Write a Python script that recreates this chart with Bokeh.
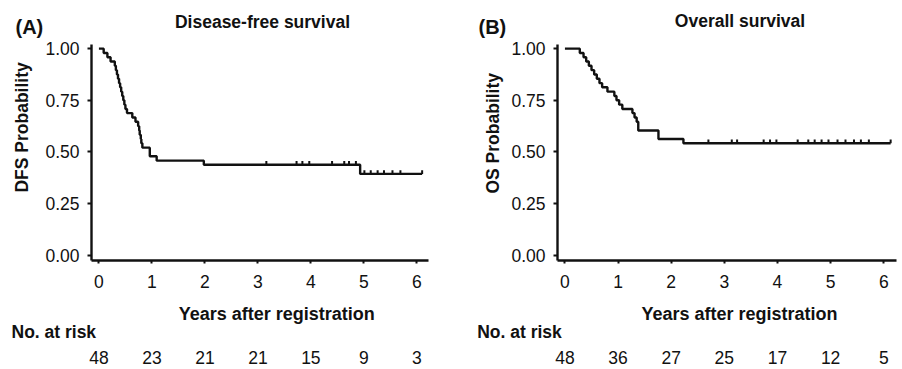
from bokeh.plotting import figure
from bokeh.models import FixedTicker, Range1d, ColumnDataSource
from bokeh.layouts import row, column
from bokeh.core.properties import value
from bokeh.embed import file_html
from bokeh.resources import INLINE

# ---------------- data ----------------
# Disease-free survival: step times (years) and survival after each step
dfs_time = [0.00, 0.09, 0.16, 0.22, 0.30, 0.32, 0.34, 0.36, 0.38, 0.40, 0.42, 0.44,
            0.46, 0.48, 0.50, 0.53, 0.63, 0.69, 0.74, 0.76, 0.77, 0.79, 0.80, 0.82,
            0.96, 1.09, 1.98, 4.93, 6.10]
dfs_surv = [1.000, 0.979, 0.958, 0.938, 0.917, 0.896, 0.875, 0.854, 0.833, 0.813, 0.792, 0.771,
            0.750, 0.729, 0.708, 0.688, 0.667, 0.646, 0.625, 0.604, 0.583, 0.563, 0.542, 0.521,
            0.479, 0.458, 0.438, 0.394, 0.394]
dfs_cens_time = [3.16, 3.73, 3.84, 3.97, 4.40, 4.63, 4.72, 4.85,
                 5.01, 5.13, 5.26, 5.38, 5.54, 5.69, 6.10]
dfs_cens_surv = [0.438, 0.438, 0.438, 0.438, 0.438, 0.438, 0.438, 0.438,
                 0.394, 0.394, 0.394, 0.394, 0.394, 0.394, 0.394]

# Overall survival
os_time = [0.00, 0.28, 0.35, 0.40, 0.45, 0.50, 0.55, 0.60, 0.65, 0.70, 0.80, 0.93,
           0.97, 1.02, 1.08, 1.27, 1.31, 1.35, 1.38, 1.76, 2.23, 6.13]
os_surv = [1.000, 0.979, 0.958, 0.938, 0.917, 0.896, 0.875, 0.854, 0.833, 0.813, 0.792, 0.771,
           0.750, 0.729, 0.708, 0.688, 0.667, 0.646, 0.604, 0.563, 0.542, 0.542]
os_cens_time = [2.70, 3.14, 3.24, 3.74, 3.86, 3.98, 4.38, 4.58, 4.70, 4.83, 4.96,
                5.13, 5.28, 5.44, 5.57, 5.72, 6.13]
os_cens_surv = [0.542] * 17

# Numbers at risk
risk_years = [0, 1, 2, 3, 4, 5, 6]
dfs_risk = [48, 23, 21, 21, 15, 9, 3]
os_risk = [48, 36, 27, 25, 17, 12, 5]

y_ticks = [0, 0.25, 0.5, 0.75, 1.0]
y_tick_labels = ["0.00", "0.25", "0.50", "0.75", "1.00"]

panel_letters = ["(A)", "(B)"]
panel_titles = ["Disease-free survival", "Overall survival"]
y_labels = ["DFS Probability", "OS Probability"]
x_label = "Years after registration"
risk_label = "No. at risk"

# ---------------- styling / layout ----------------
FONT = "Liberation Sans"
INK = "#111111"
TOP_H = 38          # title strip
MAIN_H = 258        # plot (6 top border + 216 frame + 36 bottom border)
BOT_H = 72          # axis title + risk table
X0 = -0.14
Y_RANGE = (-0.025, 1.02)


def blank(width, height, x_range, y_range):
    f = figure(width=width, height=height, x_range=x_range, y_range=y_range,
               x_axis_type=None, y_axis_type=None, output_backend="svg",
               toolbar_location=None, min_border=0)
    f.outline_line_color = None
    f.background_fill_color = "white"
    f.border_fill_color = "white"
    return f


def bold_text(f, x, y, txt, size, align="center", angle=0.0):
    f.text(x=[x], y=[y], text=[txt], angle=angle, text_font=value(FONT),
           text_font_style="bold", text_font_size=value(size), text_color=INK,
           text_align=align, text_baseline="middle")


def make_panel(times, surv, ctimes, csurv, risk, letter, title, ylabel,
               panel_w, ylab_w, frame_left, frame_w, x_end, pos):
    ppx = frame_w / (x_end - X0)                 # pixels per year of the main frame
    right = panel_w - frame_left - frame_w
    wide_range = Range1d(X0 - frame_left / ppx, x_end + right / ppx)

    # main plot
    p = figure(width=panel_w - ylab_w, height=MAIN_H, x_range=Range1d(X0, x_end),
               y_range=Range1d(*Y_RANGE), output_backend="svg", toolbar_location=None,
               min_border_left=frame_left - ylab_w, min_border_right=right,
               min_border_top=6, min_border_bottom=MAIN_H - 6 - 216)
    p.outline_line_color = None
    p.grid.visible = False
    p.background_fill_color = "white"
    p.border_fill_color = "white"

    p.step(times, surv, mode="after", line_color=INK, line_width=2.4)
    p.segment(x0=ctimes, y0=csurv, x1=ctimes, y1=[s + 0.018 for s in csurv],
              line_color=INK, line_width=2)

    for ax in (p.xaxis[0], p.yaxis[0]):
        ax.axis_line_width = 2.4
        ax.axis_line_color = INK
        ax.major_tick_line_width = 2
        ax.major_tick_line_color = INK
        ax.major_tick_in = 0
        ax.minor_tick_line_color = None
        ax.major_label_text_font = FONT
        ax.major_label_text_font_size = "17.5px"
        ax.major_label_text_color = INK
    p.xaxis.ticker = FixedTicker(ticks=risk_years)
    p.xaxis.major_tick_out = 3
    p.xaxis.major_label_standoff = 11
    p.yaxis.ticker = FixedTicker(ticks=y_ticks)
    p.yaxis.major_label_overrides = {t: l for t, l in zip(y_ticks, y_tick_labels)}
    p.yaxis.major_tick_out = 4
    p.yaxis.major_label_standoff = 8

    # rotated y-axis title strip
    yl = blank(ylab_w, MAIN_H, Range1d(0, ylab_w), Range1d(MAIN_H, 0))
    bold_text(yl, pos["ylab_x"], pos["ylab_y"], ylabel, "17.5px", angle=1.5707963)

    # title strip
    top = blank(panel_w, TOP_H, wide_range, Range1d(TOP_H, 0))
    bold_text(top, pos["letter_x"], pos["letter_y"], letter, "20px", align="left")
    bold_text(top, pos["title_x"], pos["title_y"], title, "17.5px")

    # axis title + numbers at risk
    bot = blank(panel_w, BOT_H, wide_range, Range1d(BOT_H, 0))
    bold_text(bot, pos["xlab_x"], 17, x_label, "18px")
    bold_text(bot, pos["risk_x"], 35.7, risk_label, "17.5px", align="left")
    src = ColumnDataSource(dict(x=risk_years, y=[60.5] * len(risk_years),
                                t=[str(v) for v in risk]))
    bot.text(x="x", y="y", text="t", source=src, text_font=value(FONT),
             text_font_size=value("17.5px"), text_color=INK, text_align="center",
             text_baseline="middle")

    return column(top, row(yl, p), bot)


panelA = make_panel(dfs_time, dfs_surv, dfs_cens_time, dfs_cens_surv, dfs_risk,
                    panel_letters[0], panel_titles[0], y_labels[0],
                    panel_w=453, ylab_w=40, frame_left=91, frame_w=337, x_end=6.22,
                    pos=dict(letter_x=-1.574, letter_y=26.7, title_x=3.087, title_y=21.7,
                             ylab_x=21.7, ylab_y=99, xlab_x=3.357, risk_x=-1.65))
panelB = make_panel(os_time, os_surv, os_cens_time, os_cens_surv, os_risk,
                    panel_letters[1], panel_titles[1], y_labels[1],
                    panel_w=447, ylab_w=54, frame_left=104, frame_w=339, x_end=6.24,
                    pos=dict(letter_x=-1.627, letter_y=26.7, title_x=3.295, title_y=20,
                             ylab_x=39, ylab_y=106, xlab_x=3.286, risk_x=-1.651))

layout = row(panelA, panelB)
open("out.html", "w").write(file_html(layout, INLINE))
